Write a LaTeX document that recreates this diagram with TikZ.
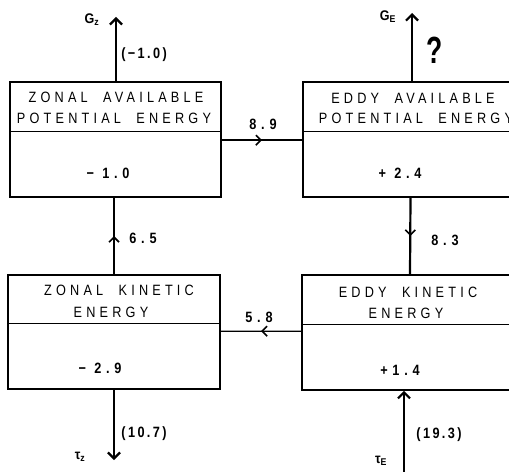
\documentclass[tikz,border=0pt]{standalone}
\usepackage{fontspec}
\usepackage{graphicx}
\setmainfont{Liberation Sans}
\newfontfamily\lett[LetterSpace=28,WordSpace=2,FakeStretch=0.85]{Liberation Sans}
\newfontfamily\bnum[LetterSpace=32,FakeStretch=0.85]{Liberation Sans}
\newfontfamily\pnum[LetterSpace=16,FakeStretch=0.85]{Liberation Sans}
\newfontfamily\gfont[FakeStretch=0.9]{Liberation Sans}
\usetikzlibrary{arrows.meta,decorations.markings,calc}
\tikzset{
  ebox/.style={draw, line width=1.6bp, inner sep=0pt},
  divline/.style={line width=1.3bp},
  ttl/.style={font=\lett\fontsize{15}{15}\selectfont, inner sep=0pt},
  val/.style={font=\bnum\bfseries\fontsize{15}{15}\selectfont, inner sep=0pt},
  lbl/.style={font=\bnum\bfseries\fontsize{15}{15}\selectfont, inner sep=0pt},
  plbl/.style={font=\pnum\bfseries\fontsize{15}{15}\selectfont, inner sep=0pt},
  glbl/.style={font=\gfont\bfseries\fontsize{14}{14}\selectfont, inner sep=0pt},
  flux/.style={line width=2.4bp, -{Straight Barb[length=6bp,width=12bp,line width=2.2bp]}},
  midarr/.style={postaction={decorate}, decoration={markings, mark=at position 0.5 with {\arrow{Straight Barb[length=5bp,width=10bp,line width=1.6bp]}}}},
  conv/.style={line width=1.4bp, midarr},
  vconv/.style={line width=2.2bp, midarr}
}
\begin{document}
\begin{tikzpicture}[x=1bp,y=-1bp]
\clip (0,0) rectangle (509,472);
% boxes
\node[ebox, minimum width=211bp, minimum height=115bp] (zape) at (115.5,139.5) {};
\draw[divline] ($(zape.north west)+(0,50)$) -- ($(zape.north east)+(0,50)$);
\node[ebox, minimum width=215bp, minimum height=115bp] (eape) at (410.5,139.5) {};
\draw[divline] ($(eape.north west)+(0,50)$) -- ($(eape.north east)+(0,50)$);
\node[ebox, minimum width=212bp, minimum height=114bp] (zke) at (114,332) {};
\draw[divline] ($(zke.north west)+(0,49)$) -- ($(zke.north east)+(0,49)$);
\node[ebox, minimum width=216bp, minimum height=115bp] (eke) at (410,332.5) {};
\draw[divline] ($(eke.north west)+(0,50)$) -- ($(eke.north east)+(0,50)$);
% titles
\node[ttl] (zapet1) at (116,97) {ZONAL AVAILABLE};
\node[ttl] (zapet2) at (114,118) {POTENTIAL ENERGY};
\node[val] (zapev) at (108,173) {− 1.0};
\node[ttl] (eapet1) at (413,98) {EDDY AVAILABLE};
\node[ttl] (eapet2) at (416,118) {POTENTIAL ENERGY};
\node[val] (eapev) at (400,173) {+ 2.4};
\node[ttl] (zket1) at (119,290) {ZONAL KINETIC};
\node[ttl] (zket2) at (111,312) {ENERGY};
\node[val] (zkev) at (100,368) {− 2.9};
\node[ttl] (eket1) at (408,292) {EDDY KINETIC};
\node[ttl] (eket2) at (406,313) {ENERGY};
\node[val] (ekev) at (400,370) {+1.4};
% generation arrows
\coordinate (gz) at (116,17);
\draw[flux] (gz |- zape.north) -- (gz);
\node[glbl] (gzl) at (92,20) {G\textsubscript{z}};
\node[plbl] (gzv) at (144,55) {(−1.0)};
\coordinate (ge) at (412,13);
\draw[flux] (ge |- eape.north) -- (ge);
\node[glbl] (gel) at (388,17) {G\textsubscript{E}};
\node[inner sep=0pt] (q) at (435,50) {\scalebox{0.7}[1]{\bfseries\fontsize{38}{38}\selectfont ?}};
% conversions
\draw[conv] ($(zape.north east)+(0,59)$) -- ($(eape.north west)+(0,59)$);
\node[lbl] (c89) at (263,124) {8.9};
\draw[vconv] (eape.south) -- (eke.north);
\node[lbl] (c83) at (445,240) {8.3};
\draw[vconv] (zke.north) -- (zke.north |- zape.south);
\node[lbl] (c65) at (143,238) {6.5};
\draw[conv] ($(eke.north west)+(0,57)$) -- ($(zke.north east)+(0,57)$);
\node[lbl] (c58) at (259,317) {5.8};
% dissipation
\coordinate (tz) at (114,460);
\draw[flux] (zke.south) -- (tz);
\node[plbl] (c107) at (144,434) {(10.7)};
\node[glbl] (tzl) at (80,457) {τ\textsubscript{z}};
\coordinate (te) at (404,472);
\draw[flux] (te) -- (te |- eke.south);
\node[plbl] (c193) at (439,435) {(19.3)};
\node[glbl] (tel) at (381,461) {τ\textsubscript{E}};
\end{tikzpicture}
\end{document}
